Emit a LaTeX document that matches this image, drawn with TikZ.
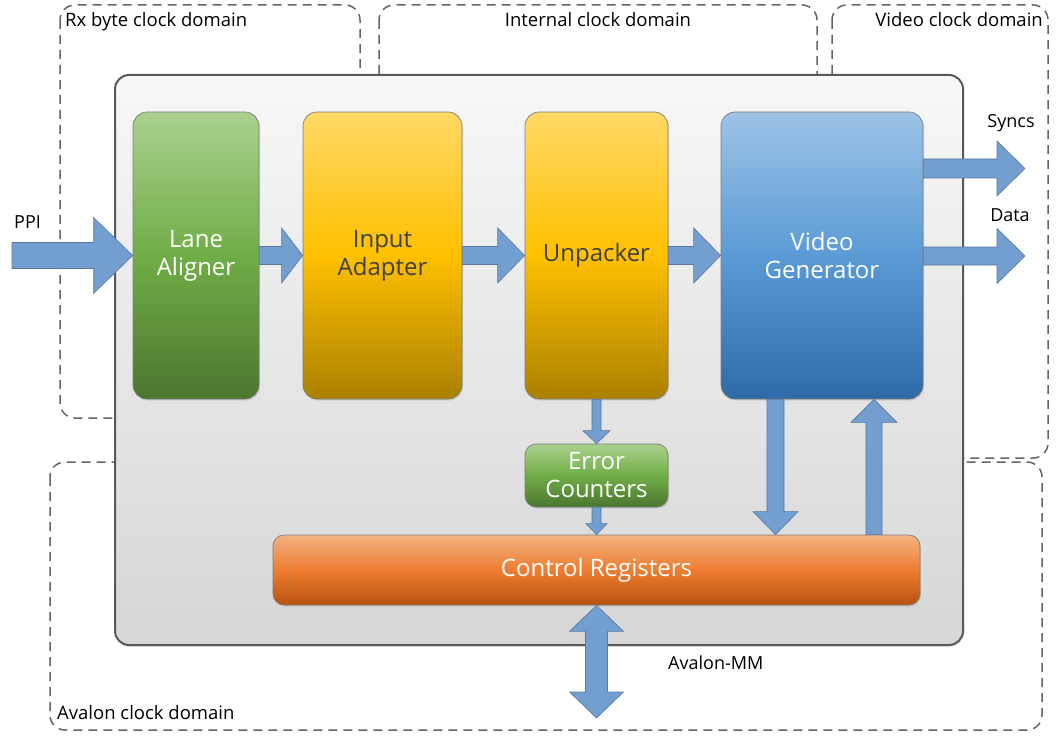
\documentclass[tikz,border=0pt]{standalone}
\usepackage{fontspec}
\setmainfont{Open Sans}
\usepackage{tikz}
\usetikzlibrary{positioning, calc, shadows}
\definecolor{DomGray}{RGB}{100,100,100}
\definecolor{CoreLine}{RGB}{89,89,89}
\definecolor{BlkLine}{RGB}{125,125,125}
\definecolor{ArrFill}{RGB}{114,159,207}
\definecolor{ArrLine}{RGB}{88,120,160}
\definecolor{TxtDark}{RGB}{64,64,64}
\definecolor{GrnTop}{RGB}{169,209,142}
\definecolor{GrnMid}{RGB}{112,173,71}
\definecolor{GrnBot}{RGB}{75,118,47}
\definecolor{YelTop}{RGB}{255,217,102}
\definecolor{YelMid}{RGB}{255,192,0}
\definecolor{YelBot}{RGB}{170,128,0}
\definecolor{BluTop}{RGB}{157,195,230}
\definecolor{BluMid}{RGB}{91,155,213}
\definecolor{BluBot}{RGB}{46,106,168}
\definecolor{OrgTop}{RGB}{244,177,131}
\definecolor{OrgMid}{RGB}{237,125,49}
\definecolor{OrgBot}{RGB}{185,82,15}

% block arrow: start, end, shaft half width, head half width, head length
\newcommand{\fatarrow}[5]{%
  \path ($(#2)!#5!(#1)$) coordinate (fa-h);
  \filldraw[arrowbody] ($(#1)!#3!90:(#2)$) -- ($(fa-h)!#3!90:(#2)$)
    -- ($(fa-h)!#4!90:(#2)$) -- (#2) -- ($(fa-h)!#4!-90:(#2)$)
    -- ($(fa-h)!#3!-90:(#2)$) -- ($(#1)!#3!-90:(#2)$) -- cycle;}
% block arrow with two heads
\newcommand{\dblfatarrow}[5]{%
  \path ($(#2)!#5!(#1)$) coordinate (fa-h) ($(#1)!#5!(#2)$) coordinate (fa-t);
  \filldraw[arrowbody] (#1) -- ($(fa-t)!#4!90:(#2)$) -- ($(fa-t)!#3!90:(#2)$)
    -- ($(fa-h)!#3!90:(#2)$) -- ($(fa-h)!#4!90:(#2)$) -- (#2)
    -- ($(fa-h)!#4!-90:(#2)$) -- ($(fa-h)!#3!-90:(#2)$)
    -- ($(fa-t)!#3!-90:(#2)$) -- ($(fa-t)!#4!-90:(#2)$) -- cycle;}

\tikzset{
  clkdomain/.style={draw=DomGray, line width=1.5pt, dash pattern=on 9pt off 6pt,
                 rounded corners=15pt},
  domlabel/.style={font=\fontsize{18.5}{22}\selectfont, inner sep=0pt},
  siglabel/.style={font=\fontsize{18}{22}\selectfont, inner sep=0pt},
  corebox/.style={draw=CoreLine, line width=2pt, rounded corners=14pt,
                  top color=white!97!black, bottom color=white!84!black,
                  drop shadow={shadow xshift=1pt, shadow yshift=-2pt, opacity=0.2}},
  blk/.style={draw=BlkLine, line width=0.7pt, rounded corners=14pt, align=center,
              font=\fontsize{24}{28}\selectfont, inner sep=0pt,
              drop shadow={shadow xshift=1pt, shadow yshift=-1.5pt, opacity=0.25}},
  greenblk/.style={blk, top color=GrnTop, bottom color=GrnBot, middle color=GrnMid, text=white},
  yellowblk/.style={blk, top color=YelTop, bottom color=YelBot, middle color=YelMid, text=TxtDark},
  blueblk/.style={blk, top color=BluTop, bottom color=BluBot, middle color=BluMid, text=white},
  orangeblk/.style={blk, top color=OrgTop, bottom color=OrgBot, middle color=OrgMid, text=white},
  arrowbody/.style={fill=ArrFill, draw=ArrLine, line width=0.6pt, line join=miter},
}

\begin{document}
\begin{tikzpicture}[x=1pt, y=-1pt]
  \useasboundingbox (0,0) rectangle (1058,741);

  % Clock domains
  \draw[clkdomain] (60,5) rectangle (360,418);
  \draw[clkdomain] (379,5) rectangle (817,400);
  \draw[clkdomain] (832,5) rectangle (1048,458);
  \draw[clkdomain] (50,462) rectangle (1042,730);
  \node[domlabel, anchor=base west] (rxlbl) at (65,27) {Rx byte clock domain};
  \node[domlabel, anchor=base] (intlbl) at (598,27) {Internal clock domain};
  \node[domlabel, anchor=base east] (vidlbl) at (1043,27) {Video clock domain};
  \node[domlabel, anchor=base west] (avlbl) at (57,719) {Avalon clock domain};

  % Core
  \node[corebox, minimum width=848pt, minimum height=570pt] (core) at (539,360) {};

  % Blocks
  \node[greenblk, minimum width=126pt, minimum height=287pt] (la) at (196,255.5) {Lane\\Aligner};
  \node[yellowblk, minimum width=159pt, minimum height=287pt] (ia) at (382.5,255.5) {Input\\Adapter};
  \node[yellowblk, minimum width=143pt, minimum height=287pt] (up) at (596.5,255.5) {Unpacker};
  \node[blueblk, minimum width=202pt, minimum height=287pt] (vg) at (822,255.5) {Video\\Generator};
  \node[greenblk, minimum width=143pt, minimum height=63pt, rounded corners=11pt] (ec) at (596.5,475.5) {Error\\Counters};
  \node[orangeblk, minimum width=647pt, minimum height=70pt, rounded corners=11pt] (cr) at (596.5,570) {Control Registers};

  % Data path
  \coordinate (ppi) at (12,255.5);
  \fatarrow{ppi}{la.west}{13pt}{38pt}{39pt}
  \node[siglabel, anchor=base west] (ppilbl) at (14,228) {PPI};
  \fatarrow{la.east}{ia.west}{9pt}{27.5pt}{21pt}
  \foreach \a/\b in {ia/up, up/vg} {
    \fatarrow{\a.east}{\b.west}{9pt}{27.5pt}{27pt}
  }

  % Video outputs
  \coordinate (syncs) at (1025,168.5);
  \coordinate (dataout) at (1025,256);
  \coordinate (sy0) at (vg.east |- syncs);
  \coordinate (da0) at (vg.east |- dataout);
  \fatarrow{sy0}{syncs}{9.5pt}{27.5pt}{28pt}
  \fatarrow{da0}{dataout}{9pt}{27.5pt}{28pt}
  \node[siglabel, anchor=base] (synclbl) at (1011,128) {Syncs};
  \node[siglabel, anchor=base] (datalbl) at (1010,222) {Data};

  % Status and control
  \fatarrow{up.south}{ec.north}{4.5pt}{13.5pt}{13pt}
  \coordinate (ec1) at (cr.north -| ec.south);
  \fatarrow{ec.south}{ec1}{4.5pt}{10.5pt}{11pt}
  \coordinate (vdn) at (775.5,0);
  \coordinate (vdn0) at (vg.south -| vdn);
  \coordinate (vdn1) at (cr.north -| vdn);
  \fatarrow{vdn0}{vdn1}{8.5pt}{22.5pt}{23pt}
  \coordinate (vup) at (874,0);
  \coordinate (vup0) at (cr.north -| vup);
  \coordinate (vup1) at (vg.south -| vup);
  \fatarrow{vup0}{vup1}{8pt}{23pt}{23pt}

  % Avalon-MM port
  \coordinate (avmm) at (cr.south |- 0,718);
  \dblfatarrow{cr.south}{avmm}{11pt}{27pt}{26pt}
  \node[siglabel, anchor=base west] (avmmlbl) at (668,669) {Avalon-MM};
\end{tikzpicture}
\end{document}
